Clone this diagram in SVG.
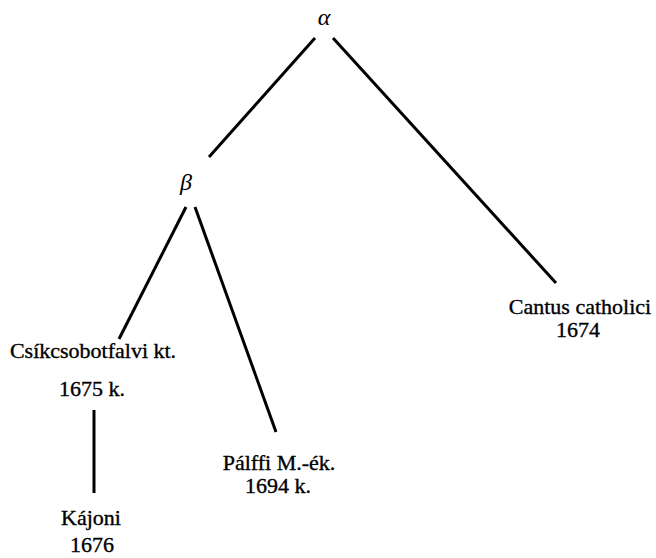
<svg xmlns="http://www.w3.org/2000/svg" width="656" height="558" viewBox="0 0 656 558">
  <style>
    .lbl { font-family: "Liberation Serif", "Times New Roman", serif; font-size: 22px; fill: #000; stroke: #000; stroke-width: 0.35; text-anchor: middle; }
    .greek { font-family: "Liberation Serif", "Times New Roman", serif; font-size: 24px; font-style: italic; fill: #000; text-anchor: middle; }
    .edge { stroke: #000; stroke-width: 3; stroke-linecap: butt; fill: none; }
  </style>
  <rect width="656" height="558" fill="#fff"/>
  <!-- stemma edges -->
  <g id="connectors">
    <line class="edge" x1="315" y1="38" x2="209" y2="157"/>
    <line class="edge" x1="333" y1="38" x2="556" y2="283"/>
    <line class="edge" x1="186" y1="207" x2="119" y2="339"/>
    <line class="edge" x1="195" y1="207" x2="276" y2="432"/>
    <line class="edge" x1="94" y1="410" x2="94" y2="493"/>
  </g>
  <g id="alpha"><text class="greek" x="324" y="25">α</text></g>
  <g id="beta"><text class="greek" x="186" y="190">β</text></g>
  <g id="csikcsobotfalvi">
    <text class="lbl" x="93" y="358">Csíkcsobotfalvi kt.</text>
    <text class="lbl" x="92" y="396">1675 k.</text>
  </g>
  <g id="kajoni">
    <text class="lbl" x="91" y="525">Kájoni</text>
    <text class="lbl" x="92" y="552">1676</text>
  </g>
  <g id="palffi">
    <text class="lbl" x="279" y="470">Pálffi M.-ék.</text>
    <text class="lbl" x="278" y="493">1694 k.</text>
  </g>
  <g id="cantus">
    <text class="lbl" x="580" y="314">Cantus catholici</text>
    <text class="lbl" x="578" y="337">1674</text>
  </g>
</svg>
